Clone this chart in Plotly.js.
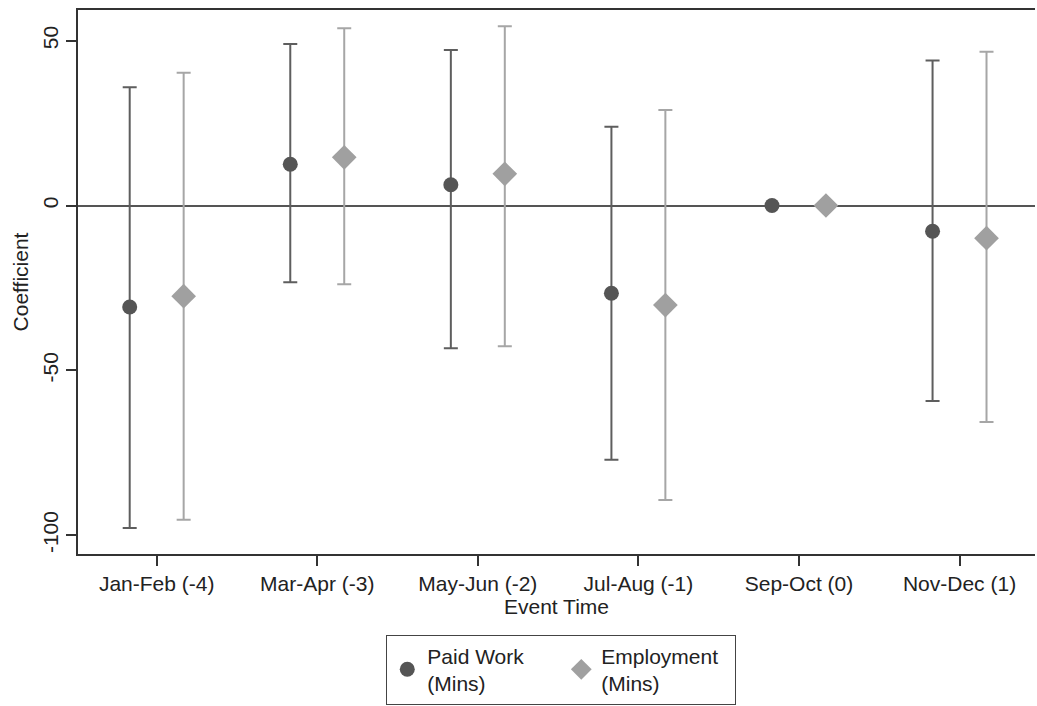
<!DOCTYPE html>
<html>
<head>
<meta charset="utf-8">
<script src="https://cdn.plot.ly/plotly-3.0.1.min.js"></script>
<style>html,body{margin:0;padding:0;background:#fff;}#chart{width:1037px;height:706px;}</style>
</head>
<body>
<div id="chart"></div>
<script>
const categories = ["Jan-Feb (-4)", "Mar-Apr (-3)", "May-Jun (-2)", "Jul-Aug (-1)", "Sep-Oct (0)", "Nov-Dec (1)"];
const catPos = [1, 2, 3, 4, 5, 6];

const paidCoef  = [-30.8, 12.5, 6.3, -26.6, 0, -7.8];
const paidUpper = [35.9, 49.0, 47.2, 23.9, 0, 44.0];
const paidLower = [-97.8, -23.3, -43.3, -77.1, 0, -59.3];

const empCoef  = [-27.5, 14.6, 9.6, -30.2, 0, -9.9];
const empUpper = [40.3, 53.8, 54.4, 29.0, 0, 46.6];
const empLower = [-95.3, -23.9, -42.7, -89.3, 0, -65.7];

const offset = 0.168;
const fontFam = "Liberation Sans, Arial, sans-serif";

function errs(coef, up, lo) {
  return {
    plus: coef.map((c, i) => up[i] - c),
    minus: coef.map((c, i) => c - lo[i])
  };
}
const pe = errs(paidCoef, paidUpper, paidLower);
const ee = errs(empCoef, empUpper, empLower);

const traces = [
  {
    type: "scatter", mode: "markers", name: "Paid Work<br>(Mins)",
    x: catPos.map(p => p - offset), y: paidCoef,
    marker: {symbol: "circle", size: 15, color: "#555555"},
    error_y: {type: "data", symmetric: false, array: pe.plus, arrayminus: pe.minus,
      color: "#5e5e5e", thickness: 2, width: 7, visible: true}
  },
  {
    type: "scatter", mode: "markers", name: "Employment<br>(Mins)",
    x: catPos.map(p => p + offset), y: empCoef,
    marker: {symbol: "diamond", size: 19, color: "#a0a0a0"},
    error_y: {type: "data", symmetric: false, array: ee.plus, arrayminus: ee.minus,
      color: "#a6a6a6", thickness: 2, width: 7, visible: true}
  }
];

const layout = {
  width: 1037, height: 706,
  margin: {l: 78, r: 2, t: 10, b: 146},
  paper_bgcolor: "#ffffff", plot_bgcolor: "#ffffff",
  font: {family: fontFam, size: 21, color: "#222222"},
  showlegend: true,
  legend: {
    orientation: "h", x: 0.505, xanchor: "center", y: -0.148, yanchor: "top",
    bordercolor: "#444444", borderwidth: 1, bgcolor: "#ffffff",
    font: {family: fontFam, size: 21, color: "#222222"},
    itemwidth: 30, tracegroupgap: 0, entrywidth: 129, entrywidthmode: "pixels"
  },
  xaxis: {
    range: [0.51, 6.47],
    tickmode: "array", tickvals: catPos, ticktext: categories,
    showgrid: false, zeroline: false,
    showline: true, linecolor: "#333333", linewidth: 2, mirror: true,
    ticks: "outside", ticklen: 10, tickwidth: 2, tickcolor: "#333333",
    tickfont: {family: fontFam, size: 21, color: "#222222"},
    title: {text: "Event Time", font: {family: fontFam, size: 21, color: "#222222"}, standoff: 0}
  },
  yaxis: {
    range: [-105.7, 59.3],
    tickmode: "array", tickvals: [-100, -50, 0, 50], ticktext: ["-100", "-50", "0", "50"],
    tickangle: -90,
    showgrid: false, zeroline: true, zerolinecolor: "#555555", zerolinewidth: 2,
    showline: true, linecolor: "#333333", linewidth: 2,
    ticks: "outside", ticklen: 10, tickwidth: 2, tickcolor: "#333333",
    tickfont: {family: fontFam, size: 21, color: "#222222"},
    title: {text: "Coefficient", font: {family: fontFam, size: 21, color: "#222222"}, standoff: 4}
  }
};

Plotly.newPlot("chart", traces, layout, {displayModeBar: false, staticPlot: true});
</script>
</body>
</html>
